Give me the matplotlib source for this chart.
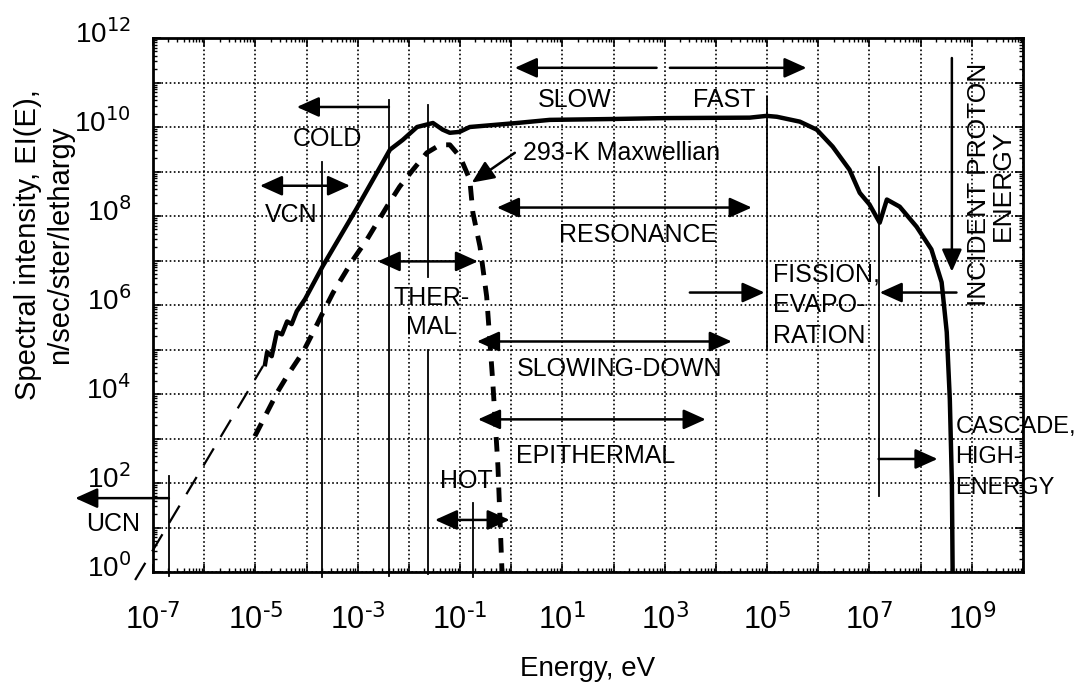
import matplotlib.pyplot as plt
import numpy as np
from matplotlib.ticker import LogLocator, FuncFormatter, NullFormatter
from matplotlib.transforms import ScaledTranslation

plt.rcParams['font.family'] = ['Liberation Sans', 'DejaVu Sans']
plt.rcParams['mathtext.default'] = 'regular'

# spectrum (log10 of energy in eV, log10 of intensity)
spec_logE = [-4.81, -4.77, -4.68, -4.58, -4.48, -4.38, -4.29, -4.19, -4.03,
             -3.68, -3.02, -2.37, -2.12, -1.84, -1.53, -1.34, -1.20, -1.01,
             -0.81, 0.11, 0.75, 2.0, 3.0, 4.66, 4.99, 5.19, 5.64, 5.97, 6.28,
             6.61, 6.81, 7.00, 7.20, 7.34, 7.59, 7.92, 8.21, 8.41, 8.51, 8.57,
             8.61, 8.625]
spec_logI = [4.67, 4.94, 4.85, 5.39, 5.34, 5.63, 5.57, 5.86, 6.13,
             6.88, 8.17, 9.49, 9.71, 10.0, 10.09, 9.94, 9.87, 9.89,
             10.0, 10.09, 10.16, 10.18, 10.20, 10.21, 10.25, 10.23, 10.12, 9.94, 9.56,
             9.04, 8.52, 8.26, 7.85, 8.37, 8.21, 7.76, 7.25, 6.51, 5.39, 3.88,
             2.02, 0.0]

# 293-K Maxwellian
maxw_logE = [-5.01, -4.77, -4.56, -4.36, -4.07, -3.87, -3.68, -3.48, -3.09,
             -2.82, -2.43, -2.18, -1.92, -1.65, -1.39, -1.20, -1.00, -0.81,
             -0.75, -0.61, -0.48, -0.36, -0.26, -0.18]
maxw_logI = [3.05, 3.59, 4.06, 4.44, 4.94, 5.39, 5.83, 6.28, 7.02,
             7.47, 8.21, 8.66, 9.04, 9.42, 9.60, 9.60, 9.33, 8.82,
             8.08, 7.31, 6.19, 4.26, 2.38, 0.0]

# low-energy extrapolation
extrap_logE = [-7.35, -4.85]
extrap_logI = [-0.18, 4.63]

fig = plt.figure(figsize=(10.78, 6.82), dpi=100)
ax = fig.add_axes([153 / 1078, 1 - 572 / 682, 870 / 1078, 534 / 682])
ax.set_xscale('log')
ax.set_yscale('log')
ax.set_xlim(1e-7, 1e10)
ax.set_ylim(1, 1e12)

P = lambda v: 10.0 ** np.asarray(v)

ax.plot(P(spec_logE), P(spec_logI), color='k', lw=3.2, solid_joinstyle='round', zorder=5)
ax.plot(P(maxw_logE), P(maxw_logI), color='k', lw=3.5, linestyle=(0, (3, 2.2)), zorder=5)
ax.plot(P(extrap_logE), P(extrap_logI), color='k', lw=1.6, linestyle=(0, (9, 6)),
        clip_on=False, zorder=5)

# ticks and grid
ax.xaxis.set_major_locator(LogLocator(base=10, numticks=40))
ax.yaxis.set_major_locator(LogLocator(base=10, numticks=40))
ax.xaxis.set_minor_locator(LogLocator(base=10, subs=np.arange(2, 10) * 1.0, numticks=40))
ax.yaxis.set_minor_locator(LogLocator(base=10, subs=np.arange(2, 10) * 1.0, numticks=40))
ax.xaxis.set_minor_formatter(NullFormatter())
ax.yaxis.set_minor_formatter(NullFormatter())


def lab(parity):
    def f(v, pos):
        e = int(round(np.log10(v)))
        return r'$10^{\text{%d}}$' % e if e % 2 == parity else ''
    return FuncFormatter(f)


ax.xaxis.set_major_formatter(lab(1))
ax.yaxis.set_major_formatter(lab(0))
ax.tick_params(which='both', direction='in', top=True, right=True)
ax.tick_params(axis='x', labelsize=22, pad=23)
ax.tick_params(axis='y', labelsize=20, pad=16)
ax.tick_params(which='major', length=6, width=1.2)
ax.tick_params(which='minor', length=3, width=1)
for t in ax.get_yticklabels():
    t.set_transform(t.get_transform() + ScaledTranslation(0, 5 / 72, fig.dpi_scale_trans))
ax.grid(True, which='major', color='k', linestyle=(0, (1, 1.5)), lw=1.2)
for s in ax.spines.values():
    s.set_linewidth(2)

ax.set_xlabel('Energy, eV', fontsize=20, labelpad=14)
fig.text(44 / 1078, 1 - 245 / 682, 'Spectral intensity, EI(E),\nn/sec/ster/lethargy',
         rotation=90, ha='center', va='center', multialignment='center', fontsize=21)

FS = 18


def vline(le, ly0, ly1):
    ax.plot(P([le, le]), P([ly0, ly1]), color='k', lw=1.3, clip_on=False)


def arrow(lx0, lx1, ly0, ly1=None, both=False):
    if ly1 is None:
        ly1 = ly0
    style = '<|-|>' if both else '-|>'
    ax.annotate('', xy=(10 ** lx1, 10 ** ly1), xytext=(10 ** lx0, 10 ** ly0),
                arrowprops=dict(arrowstyle=style + ',head_length=0.4,head_width=0.18',
                                mutation_scale=34, color='k', lw=1.8,
                                shrinkA=0, shrinkB=0),
                annotation_clip=False)


def label(lx, ly, s, ha='center', **kw):
    kw.setdefault('fontsize', FS)
    ax.text(10 ** lx, 10 ** ly, s, ha=ha, va='center', **kw)


# UCN
vline(-6.69, -0.09, 2.16)
arrow(-6.69, -8.52, 1.66)
label(-7.78, 1.08, 'UCN')

# VCN
vline(-3.70, -0.11, 9.22)
arrow(-4.91, -3.15, 8.68, both=True)
label(-4.29, 8.03, 'VCN')

# COLD
vline(-2.39, -0.09, 10.61)
arrow(-2.39, -4.19, 10.45)
label(-3.60, 9.74, 'COLD')

# THERMAL
vline(-1.63, 6.62, 10.50)
vline(-1.63, -0.04, 5.0)
arrow(-2.61, -0.65, 6.98, both=True)
label(-1.55, 5.83, 'THER-\nMAL', multialignment='center', linespacing=1.3)

# HOT
vline(-0.75, -0.11, 1.55)
arrow(-1.49, -0.03, 1.17, both=True)
label(-0.87, 2.04, 'HOT')

# Maxwellian label
arrow(0.07, -0.77, 9.42, 8.75)
label(0.23, 9.42, '293-K Maxwellian', ha='left')

# SLOW / FAST
arrow(2.84, 0.07, 11.33)
arrow(3.10, 5.77, 11.33)
label(1.24, 10.61, 'SLOW')
label(4.17, 10.61, 'FAST')
vline(5.0, 5.0, 10.68)

# RESONANCE, SLOWING-DOWN, EPITHERMAL
arrow(-0.28, 4.70, 8.19, both=True)
label(2.47, 7.58, 'RESONANCE')
arrow(-0.67, 4.31, 5.18, both=True)
label(2.12, 4.56, 'SLOWING-DOWN')
arrow(-0.65, 3.80, 3.43, both=True)
label(1.65, 2.61, 'EPITHERMAL')

# FISSION / EVAPORATION
arrow(3.49, 4.95, 6.28)
arrow(8.70, 7.20, 6.28)
label(5.11, 6.0, 'FISSION,\nEVAPO-\nRATION', ha='left', linespacing=1.35)
vline(7.18, 1.71, 9.11)

# CASCADE
arrow(7.18, 8.33, 2.54)
label(8.68, 2.58, 'CASCADE,\nHIGH-\nENERGY', ha='left', linespacing=1.5, fontsize=17)

# incident proton energy
arrow(8.61, 8.61, 11.55, 6.75)
ax.text(10 ** 9.37, 10 ** 8.70, 'INCIDENT PROTON\nENERGY', rotation=90, ha='center',
        va='center', multialignment='center', fontsize=19, linespacing=1.0)

fig.savefig('out.png', dpi=100)
